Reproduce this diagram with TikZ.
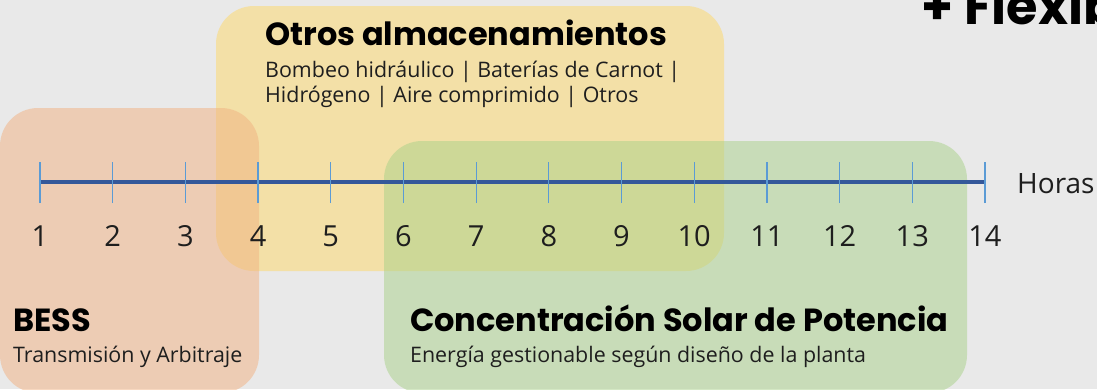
\documentclass[tikz,border=0pt]{standalone}
\usepackage{fontspec}
\setmainfont{Open Sans}
\newfontfamily\popfont{Poppins}
\definecolor{bgc}{HTML}{E9E9E9}
\definecolor{yelc}{HTML}{F3E0A7}
\definecolor{peachc}{HTML}{F1B181}
\definecolor{greenc}{HTML}{A9D189}
\definecolor{linec}{HTML}{34589A}
\definecolor{tickc}{HTML}{5B9BD5}
\definecolor{txtc}{HTML}{1E1E1E}
\tikzset{
  zone/.style={rounded corners=38pt},
  title/.style={anchor=base west, inner sep=0pt, font=\popfont\bfseries\fontsize{32}{34}\selectfont, text=black},
  sub/.style={anchor=base west, inner sep=0pt, font=\fontsize{21.4}{26}\selectfont, text=txtc},
  num/.style={anchor=base, inner sep=0pt, font=\fontsize{29}{32}\selectfont, text=txtc},
  tick/.style={draw=tickc, line width=1.2pt},
  axis/.style={draw=linec, line width=4pt}
}
\begin{document}
\begin{tikzpicture}[x=1pt,y=-1pt]
\useasboundingbox (0,0) rectangle (1097,389);
\clip (0,0) rectangle (1097,389);
\fill[bgc] (0,0) rectangle (1097,389);
% zones
\fill[yelc, zone] (216,6) rectangle (724,271);
\fill[peachc, fill opacity=.5, zone] (0,108) rectangle (259,393);
\fill[greenc, fill opacity=.5, zone] (384,141) rectangle (967,393);
% timeline
\foreach \i in {1,...,14} {
  \coordinate (t\i) at ({40+(\i-1)*72.69},182);
}
\draw[axis] (t1) -- (t14);
\foreach \i in {1,...,14} {
  \draw[tick] ([yshift=-21pt]t\i) -- ([yshift=20pt]t\i);
  \node[num] (n\i) at ({40+(\i-1)*72.69},246) {\i};
}
\node[anchor=base west, inner sep=0pt, font=\fontsize{28}{30}\selectfont, text=txtc] (horas) at (1017,193) {Horas};
% texts
\node[title] (otros) at (265,45) {Otros almacenamientos};
\node[sub] (otrossub1) at (265,77) {Bombeo hidráulico | Baterías de Carnot |};
\node[sub] (otrossub2) at (265,102) {Hidrógeno | Aire comprimido | Otros};
\node[title] (bess) at (13,331) {BESS};
\node[sub] (besssub) at (13,362) {Transmisión y Arbitraje};
\node[title] (csp) at (410,331) {Concentración Solar de Potencia};
\node[sub] (cspsub) at (410,362) {Energía gestionable según diseño de la planta};
\node[anchor=base west, inner sep=0pt, font=\popfont\bfseries\fontsize{51}{54}\selectfont] (flex) at (921,24) {+ Flexibilidad};
\end{tikzpicture}
\end{document}
